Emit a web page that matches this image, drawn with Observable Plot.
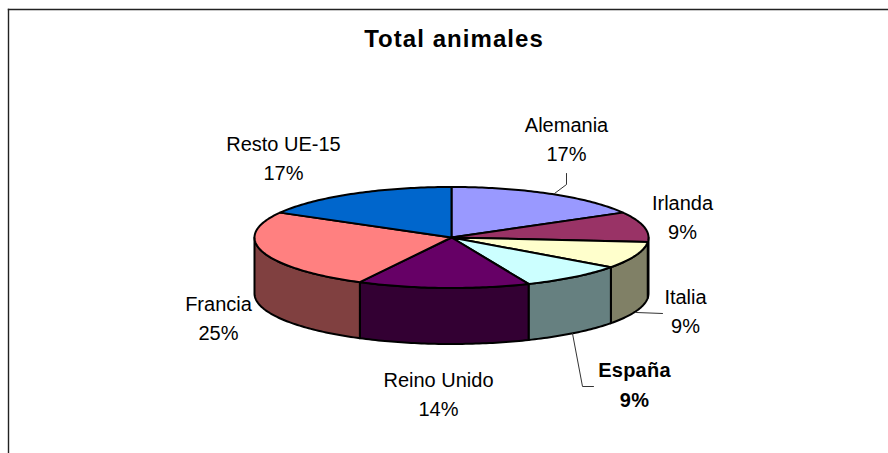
<!DOCTYPE html>
<html><head><meta charset="utf-8">
<script src="https://cdn.jsdelivr.net/npm/d3@7"></script>
<script src="https://cdn.jsdelivr.net/npm/@observablehq/plot@0.6"></script>
<style>html,body{margin:0;padding:0;background:#fff}svg{display:block}
.chart-title{letter-spacing:1.05px}.bold-label{letter-spacing:.25px}</style>
</head><body><div id="c"></div>
<script>
const countries = ["Alemania","Irlanda","Italia","España","Reino Unido","Francia","Resto UE-15"];
const shares = [16.8,9.6,8.6,8.6,14.1,25.5,16.8];
const percentLabels = ["17%","9%","9%","9%","14%","25%","17%"];
const topColors = ["#9999FF","#993366","#FFFFCC","#CCFFFF","#660066","#FF8080","#0066CC"];
const sideColors = ["#4D4D80","#2A0F1C","#808066","#668080","#330033","#804040","#003366"];
const labelX = [566,682,685,634,438,218,283];
const labelY = [136.5,214.5,308.5,381.5,391.5,315.5,155.5];

// pie layout (pixels)
const cx=451, cy=237, rx=197, ry=50.5, depth=56;
const px=a=>cx+rx*Math.sin(a), py=a=>cy-ry*Math.cos(a);
const TAU=2*Math.PI, arcStep=TAU/360;
function arc(a0,a1){const n=Math.max(1,Math.ceil(Math.abs(a1-a0)/arcStep));return d3.range(n+1).map(i=>a0+(a1-a0)*i/n);}

let acc=0; const slices=countries.map((name,i)=>{const a0=acc/100*TAU;acc+=shares[i];return {name,i,a0,a1:acc/100*TAU};});

const tops=slices.flatMap(s=>[{x:cx,y:cy,id:s.name,c:topColors[s.i]},...arc(s.a0,s.a1).map(a=>({x:px(a),y:py(a),id:s.name,c:topColors[s.i]}))]);
const sides=slices.flatMap(s=>{
  const a0=Math.max(s.a0,TAU/4),a1=Math.min(s.a1,3*TAU/4); if(a1<=a0) return [];
  const as=arc(a0,a1);
  return [...as.map(a=>({x:px(a),y:py(a)})),...as.reverse().map(a=>({x:px(a),y:py(a)+depth}))].map(p=>({...p,id:s.name,c:sideColors[s.i]}));
});
const labels=countries.map((name,i)=>({name,text:name+"\n"+percentLabels[i],x:labelX[i],y:labelY[i]}));
const leaders=[
 {id:"a",pts:[[554,193],[566,184],[566,173]]},
 {id:"b",pts:[[636,312],[662,313]]},
 {id:"c",pts:[[572,333],[582,386],[593,386]]}
].flatMap(l=>l.pts.map(([x,y])=>({id:l.id,x,y})));

const font="Liberation Sans, Arial, sans-serif";
const plot=Plot.plot({
  width:888,height:453,marginLeft:8,marginTop:9,marginRight:0,marginBottom:0,
  style:{background:"#fff",fontFamily:font},
  x:{domain:[8,888],range:[8,888],axis:null},
  y:{domain:[9,453],range:[9,453],axis:null},
  color:{type:"identity"},
  marks:[
    Plot.frame({anchor:"left",stroke:"#222",strokeWidth:1.4}),
    Plot.frame({anchor:"top",stroke:"#222",strokeWidth:1.4}),
    Plot.line(sides,{x:"x",y:"y",z:"id",fill:"c",stroke:"#000",strokeWidth:2,curve:"linear-closed",strokeLinejoin:"round"}),
    Plot.line(tops,{x:"x",y:"y",z:"id",fill:"c",stroke:"#000",strokeWidth:2,curve:"linear-closed",strokeLinejoin:"round"}),
    Plot.line(leaders,{x:"x",y:"y",z:"id",stroke:"#333",strokeWidth:1}),
    Plot.text(labels.filter(d=>d.name!=="España"),{x:"x",y:"y",text:"text",fontSize:20,lineHeight:1.44,fill:"#000"}),
    Plot.text(labels.filter(d=>d.name==="España"),{x:"x",y:"y",text:"text",fontSize:20,fontWeight:"bold",lineHeight:1.52,fill:"#000",className:"bold-label"}),
    Plot.text(["Total animales"],{x:()=>453.5,y:()=>39,text:d=>d,fontSize:24,fontWeight:"bold",fill:"#000",className:"chart-title"})
  ]
});
document.getElementById("c").appendChild(plot);
</script></body></html>
